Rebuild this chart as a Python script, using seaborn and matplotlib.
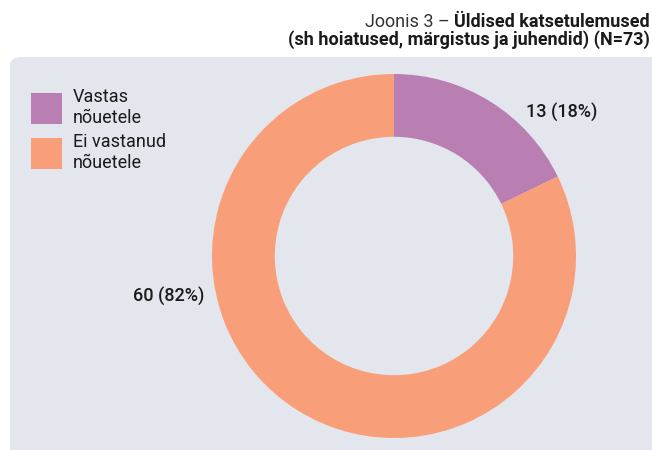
import matplotlib
matplotlib.use("Agg")
import matplotlib.pyplot as plt
from matplotlib.patches import FancyBboxPatch, Patch
import seaborn as sns

# data
categories = ["Vastas\nnõuetele", "Ei vastanud\nnõuetele"]
counts = [13, 60]
value_labels = ["13 (18%)", "60 (82%)"]
colors = ["#B97FB3", "#F89E78"]

title_light = "Joonis 3 – "
title_bold = "Üldised katsetulemused"
title_line2 = "(sh hoiatused, märgistus ja juhendid) (N=73)"

sns.set_theme(style="white")
plt.rcParams["font.family"] = ["Roboto", "DejaVu Sans"]

W, H = 652, 450
FS = 13
fig = plt.figure(figsize=(W / 100, H / 100), dpi=100)
fig.patch.set_facecolor("white")

# grey rounded panel
panel = FancyBboxPatch((10 / W, -0.1), 1.2, (H - 57) / H + 0.1,
                       boxstyle="round,pad=0,rounding_size=0.018",
                       transform=fig.transFigure, facecolor="#E4E6EE",
                       edgecolor="none", zorder=-10)
fig.patches.append(panel)

# donut axes: center (394, 256), radius 182 px
cx, cy, r = 394, 256, 182
ax = fig.add_axes([(cx - r) / W, (H - cy - r) / H, 2 * r / W, 2 * r / H])
ax.set_facecolor("none")
ax.set_zorder(5)
ax.pie(counts, colors=colors, startangle=90, counterclock=False, radius=1,
       wedgeprops=dict(width=0.345, edgecolor="none"))
ax.set_xlim(-1, 1)
ax.set_ylim(-1, 1)
ax.axis("off")

ax.text(0.923, 0.791, value_labels[0], ha="center", va="center",
        fontsize=FS, fontweight="medium", color="#1a1a1a")
ax.text(-1.236, -0.225, value_labels[1], ha="center", va="center",
        fontsize=FS, fontweight="medium", color="#1a1a1a")

# legend
handles = [Patch(facecolor=c, edgecolor="none") for c in colors]
leg = fig.legend(handles, categories, loc="upper left",
                 bbox_to_anchor=(13 / W, 1 - 70 / H), frameon=False,
                 fontsize=FS, handlelength=1.72, handleheight=2.27,
                 handletextpad=0.6, labelspacing=0.33, borderpad=0.5,
                 labelcolor="#1a1a1a")
leg.set_zorder(6)

# title
tb = fig.text(650 / W, 1 - 27 / H, title_bold, ha="right", va="baseline",
              fontsize=FS, fontweight="bold", color="#1a1a1a")
fig.text(650 / W, 1 - 45 / H, title_line2, ha="right", va="baseline",
         fontsize=FS, fontweight="bold", color="#1a1a1a")
fig.canvas.draw()
bb = tb.get_window_extent()
fig.text(bb.x0 / W, 1 - 27 / H, title_light, ha="right", va="baseline",
         fontsize=FS, fontweight="normal", color="#333333")

fig.savefig("out.png", dpi=100)
